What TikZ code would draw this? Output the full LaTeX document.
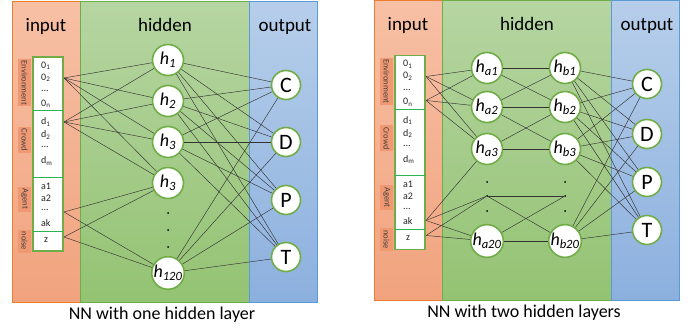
\documentclass[tikz,border=0pt]{standalone}
\usepackage{fontspec}
\setmainfont{Carlito}

\definecolor{intop}{RGB}{247,192,165}
\definecolor{inbot}{RGB}{241,163,126}
\definecolor{inedge}{RGB}{237,125,49}
\definecolor{hidtop}{RGB}{182,213,162}
\definecolor{hidbot}{RGB}{148,195,115}
\definecolor{hidedge}{RGB}{112,173,71}
\definecolor{outtop}{RGB}{182,206,234}
\definecolor{outbot}{RGB}{140,176,222}
\definecolor{outedge}{RGB}{91,155,213}
\definecolor{sidebox}{RGB}{240,152,114}
\definecolor{nngreen}{RGB}{112,173,71}
\definecolor{divgreen}{RGB}{40,180,80}

% one panel: the three columns, the titles and the input vector
\newcommand\nnpanel[2]{%
  \path[draw=inedge,line width=1pt,top color=intop,bottom color=inbot] (12,2) rectangle (80,302);
  \path[draw=hidedge,line width=1pt,top color=hidtop,bottom color=hidbot] (80,2) rectangle (249,302);
  \path[draw=outedge,line width=1pt,top color=outtop,bottom color=outbot] (249,2) rectangle (317,302);
  \node[title] (#1-tin) at (46,32) {input};
  \node[title] (#1-thid) at (165,32) {hidden};
  \node[title] (#1-tout) at (285,32) {output};
  \node[caption] (#1-cap) at (162,319) {#2};

  % side labels
  \node[side,minimum width=47pt] (#1-senv) at (24.5,83) {Environment};
  \node[side,minimum width=26pt] (#1-scrowd) at (24.5,140) {Crowd};
  \node[side,minimum width=25pt] (#1-sagent) at (24.5,199) {Agent};
  \node[side,minimum width=23pt] (#1-snoise) at (24.5,241) {noise};

  % input vector
  \draw[fill=white,draw=nngreen,line width=1.3pt] (33,57) rectangle (63,251);
  \foreach \yy in {111,177,231}
    \draw[divgreen,line width=1pt] (33,\yy) -- (63,\yy);
  \node[entry] (#1-o1) at (41,66) {0\textsubscript{1}};
  \node[entry] (#1-o2) at (41,78) {0\textsubscript{2}};
  \node[entry] (#1-o3) at (41,91) {...};
  \node[entry] (#1-on) at (41,104) {0\textsubscript{n}};
  \node[entry] (#1-d1) at (41,122) {d\textsubscript{1}};
  \node[entry] (#1-d2) at (41,135) {d\textsubscript{2}};
  \node[entry] (#1-d3) at (41,147) {...};
  \node[entry] (#1-dm) at (41,161) {d\textsubscript{m}};
  \node[entry] (#1-a1) at (41,186) {a1};
  \node[entry] (#1-a2) at (41,198) {a2};
  \node[entry] (#1-a3) at (41,210) {...};
  \node[entry] (#1-ak) at (41,223) {ak};
  \node[entry] (#1-z) at (44,240) {z};

  % where the wires leave the vector
  \coordinate (#1-pe1) at (64,78);
  \coordinate (#1-pe2) at (64,102);
  \coordinate (#1-pc) at (64,122);
  \coordinate (#1-pa1) at (64,212);
  \coordinate (#1-pa2) at (64,222);
  \coordinate (#1-pz) at (64,237);
}

\begin{document}
\begin{tikzpicture}[x=1pt,y=-1pt,
    title/.style={font=\fontsize{19}{20}\selectfont,anchor=base,inner sep=0pt},
    caption/.style={font=\fontsize{18}{20}\selectfont,anchor=base,inner sep=0pt},
    side/.style={fill=sidebox,rotate=-90,font=\fontsize{8.5}{8.5}\selectfont,
      text=black!75,inner sep=0.5pt,minimum height=13pt},
    entry/.style={anchor=west,font=\fontsize{10}{10}\selectfont,text=black!85,inner sep=0pt},
    neuron/.style={circle,draw=nngreen,line width=1.6pt,fill=white,minimum size=31pt,
      inner sep=0pt,font=\fontsize{18}{18}\selectfont\itshape},
    outn/.style={neuron,minimum size=29pt,font=\fontsize{22}{22}\selectfont},
    dot/.style={circle,fill=black,inner sep=0pt,minimum size=2pt},
    wire/.style={draw=black!80,line width=0.45pt}]
  \useasboundingbox (0,0) rectangle (700,331);

  %%%%%%%%%%%%%%%%%%%%%%%%%%%%%%%%%%%%
  % one hidden layer

  \nnpanel{l}{NN with one hidden layer}

  \node[neuron] (l-h1) at (168,60) {h\textsubscript{1}};
  \node[neuron] (l-h2) at (168,101) {h\textsubscript{2}};
  \node[neuron] (l-h3) at (168,142) {h\textsubscript{3}};
  \node[neuron] (l-h4) at (168,183) {h\textsubscript{3}};
  \node[dot] (l-dot1) at (168,213) {};
  \node[dot] (l-dot2) at (168,230) {};
  \node[dot] (l-dot3) at (168,247) {};
  \node[neuron] (l-h120) at (168,273) {h\textsubscript{120}};

  \node[outn] (l-C) at (286,85) {C};
  \node[outn] (l-D) at (286,142) {D};
  \node[outn] (l-P) at (286,200) {P};
  \node[outn] (l-T) at (286,257) {T};

  \foreach \s in {pe1,pc}
    \foreach \t in {h1,h2,h3,h4}
      \draw[wire] (l-\s) -- (l-\t);
  \foreach \s in {pa1,pz}
    \foreach \t in {h4,h120}
      \draw[wire] (l-\s) -- (l-\t);
  \foreach \s in {h1,h2,h3,h120}
    \foreach \t in {C,D,P,T}
      \draw[wire] (l-\s) -- (l-\t);

  %%%%%%%%%%%%%%%%%%%%%%%%%%%%%%%%%%%%
  % two hidden layers

  \begin{scope}[shift={(362,-1.5)}]
    \nnpanel{r}{NN with two hidden layers}

    \node[neuron] (r-a1) at (125,69.5) {h\textsubscript{a1}};
    \node[neuron] (r-a2) at (125,108.5) {h\textsubscript{a2}};
    \node[neuron] (r-a3) at (125,150.5) {h\textsubscript{a3}};
    \node[dot] (r-adot1) at (125,183.5) {};
    \node[dot] (r-ad) at (125,197.5) {};
    \node[dot] (r-adot3) at (125,212.5) {};
    \node[neuron] (r-a20) at (125,242.5) {h\textsubscript{a20}};

    \node[neuron] (r-b1) at (203,69.5) {h\textsubscript{b1}};
    \node[neuron] (r-b2) at (203,108.5) {h\textsubscript{b2}};
    \node[neuron] (r-b3) at (203,150.5) {h\textsubscript{b3}};
    \node[dot] (r-bdot1) at (203,183.5) {};
    \node[dot] (r-bd) at (203,197.5) {};
    \node[dot] (r-bdot3) at (203,212.5) {};
    \node[neuron] (r-b20) at (203,242.5) {h\textsubscript{b20}};

    \node[outn] (r-C) at (285,85.5) {C};
    \node[outn] (r-D) at (285,135.5) {D};
    \node[outn] (r-P) at (285,183.5) {P};
    \node[outn] (r-T) at (285,231.5) {T};

    \foreach \s in {pe1,pe2}
      \foreach \t in {a1,a2,a3}
        \draw[wire] (r-\s) -- (r-\t);
    \foreach \t in {a3,ad,a20}
      \draw[wire] (r-pa2) -- (r-\t);
    \foreach \t in {ad,a20}
      \draw[wire] (r-pz) -- (r-\t);

    \draw[wire] (r-a1) -- (r-b1);
    \draw[wire] (r-a1) -- (r-b2);
    \draw[wire] (r-a2) -- (r-b1);
    \draw[wire] (r-a2) -- (r-b2);
    \draw[wire] (r-a2) -- (r-b3);
    \draw[wire] (r-a3) -- (r-b2);
    \draw[wire] (r-a3) -- (r-b3);
    \draw[wire] (r-ad) -- (r-bd);
    \draw[wire] (r-ad) -- (r-b20);
    \draw[wire] (r-a20) -- (r-bd);
    \draw[wire] (r-a20) -- (r-b20);

    \foreach \s in {b1,b2,b3,b20}
      \foreach \t in {C,D,P,T}
        \draw[wire] (r-\s) -- (r-\t);
  \end{scope}

\end{tikzpicture}
\end{document}
